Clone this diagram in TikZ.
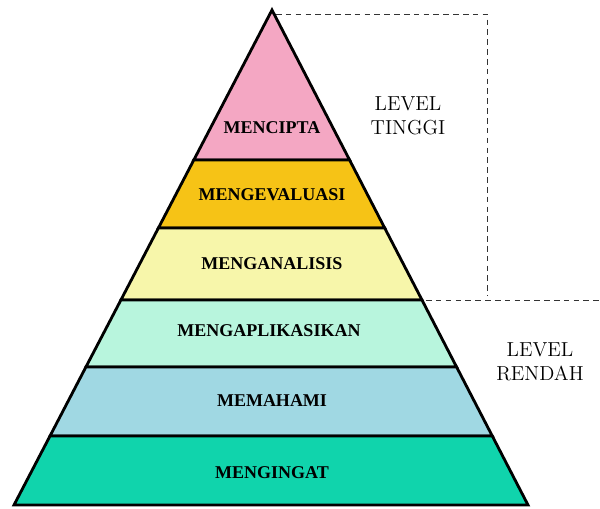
\documentclass[tikz,border=0pt]{standalone}
\usepackage{fontspec}
\newfontfamily\layerfont{Liberation Serif}
\definecolor{cipta}{RGB}{244,167,195}
\definecolor{evaluasi}{RGB}{246,195,22}
\definecolor{analisis}{RGB}{247,246,170}
\definecolor{aplikasi}{RGB}{184,245,221}
\definecolor{paham}{RGB}{160,216,227}
\definecolor{ingat}{RGB}{16,212,172}
\tikzset{
  layer/.style={draw=black, line width=2pt},
  layerlabel/.style={font=\layerfont\bfseries\fontsize{12.8}{14}\selectfont, inner sep=0pt},
  levellabel/.style={font=\fontsize{14.4}{17}\selectfont, align=center, inner sep=0pt},
  guide/.style={draw=black!80, line width=0.6pt, dash pattern=on 4pt off 3pt}
}
\begin{document}
\begin{tikzpicture}[x=0.025cm, y=-0.025cm]
      % \draw[help lines] (0,0) grid (600,508);
      \useasboundingbox (0,0) rectangle (600,508);
      \filldraw[layer, fill=cipta] (272,10) -- (349.6,160) -- (193.8,160) -- cycle;
      \filldraw[layer, fill=evaluasi] (193.8,160) -- (349.6,160) -- (384.7,228) -- (158.4,228) -- cycle;
      \filldraw[layer, fill=analisis] (158.4,228) -- (384.7,228) -- (422,300) -- (120.9,300) -- cycle;
      \filldraw[layer, fill=aplikasi] (120.9,300) -- (422,300) -- (456.6,367) -- (85.9,367) -- cycle;
      \filldraw[layer, fill=paham] (85.9,367) -- (456.6,367) -- (492.3,436) -- (50,436) -- cycle;
      \filldraw[layer, fill=ingat] (50,436) -- (492.3,436) -- (528,505) -- (14,505) -- cycle;
      \node[layerlabel] (mencipta) at (272,128) {MENCIPTA};
      \node[layerlabel] (mengevaluasi) at (272,195) {MENGEVALUASI};
      \node[layerlabel] (menganalisis) at (272,264) {MENGANALISIS};
      \node[layerlabel] (mengaplikasikan) at (269,331) {MENGAPLIKASIKAN};
      \node[layerlabel] (memahami) at (272,401) {MEMAHAMI};
      \node[layerlabel] (mengingat) at (272,473) {MENGINGAT};
      \draw[guide] (276,14) -- (487,14) -- (487,296);
      \draw[guide] (426,300) -- (600,300);
      \node[levellabel] (tinggi) at (408,116) {LEVEL\\TINGGI};
      \node[levellabel] (rendah) at (540,362) {LEVEL\\RENDAH};
\end{tikzpicture}
\end{document}
